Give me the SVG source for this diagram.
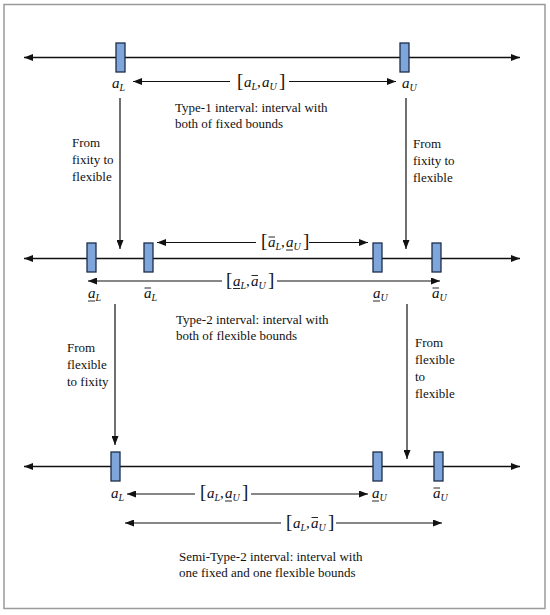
<svg xmlns="http://www.w3.org/2000/svg" width="550" height="615" viewBox="0 0 550 615">
<style>
  .t { font-size: 13px; fill: #111; }
  .m { font-size: 15px; font-style: italic; fill: #111; }
  .s { font-size: 10px; }
  .br { font-size: 19px; font-style: normal; }
  .cm { font-style: normal; }
  .ar { stroke: #111; stroke-width: 1.2; fill: none; marker-end: url(#ah); }
  .axis { stroke: #111; stroke-width: 1.4; fill: none; marker-end: url(#ah); marker-start: url(#ah); }
  .tick { fill: #7FA6DA; stroke: #1E2D4A; stroke-width: 1.3; }
  .bar { stroke: #111; stroke-width: 0.9; }
</style>
<defs>
  <marker id="ah" markerUnits="userSpaceOnUse" markerWidth="9" markerHeight="7" viewBox="0 0 9 7" refX="9" refY="3.5" orient="auto-start-reverse">
    <path d="M0,0 L9,3.5 L0,7 z" fill="#111"/>
  </marker>
</defs>
<rect x="4" y="4.5" width="541" height="604" fill="#fff" stroke="#9a9a9a" stroke-width="1.5"/>

<g id="connectors">
  <line class="axis" x1="24" y1="57.5" x2="520" y2="57.5"/>
  <line class="axis" x1="24" y1="258.5" x2="520" y2="258.5"/>
  <line class="axis" x1="24" y1="466.5" x2="520" y2="466.5"/>
  <line class="ar" x1="120" y1="98" x2="120" y2="249"/>
  <line class="ar" x1="406" y1="98" x2="406" y2="249"/>
  <line class="ar" x1="115" y1="304" x2="115" y2="445"/>
  <line class="ar" x1="407" y1="304" x2="407" y2="459"/>
  <line class="ar" x1="230" y1="81.5" x2="133" y2="81.5"/>
  <line class="ar" x1="289" y1="81.5" x2="396" y2="81.5"/>
  <line class="ar" x1="256" y1="242.5" x2="157" y2="242.5"/>
  <line class="ar" x1="309" y1="242.5" x2="368" y2="242.5"/>
  <line class="ar" x1="222" y1="281" x2="88" y2="281"/>
  <line class="ar" x1="277" y1="281" x2="440" y2="281"/>
  <line class="ar" x1="195" y1="494" x2="127" y2="494"/>
  <line class="ar" x1="251" y1="494" x2="368" y2="494"/>
  <line class="ar" x1="281" y1="523" x2="125" y2="523"/>
  <line class="ar" x1="336" y1="523" x2="442" y2="523"/>
</g>

<g font-family="Liberation Serif, Times New Roman, serif">
<g id="type1">
  <rect class="tick" x="116" y="43" width="9" height="29"/>
  <rect class="tick" x="400" y="43" width="9" height="29"/>
  <text class="m" y="88"><tspan x="112">a</tspan><tspan class="s" x="119.5" dy="3">L</tspan></text>
  <text class="m" y="88"><tspan x="402">a</tspan><tspan class="s" x="409.5" dy="3">U</tspan></text>
  <text class="m" y="87"><tspan class="br" x="237">[</tspan><tspan x="244">a</tspan><tspan class="s" x="251.5" dy="3">L</tspan><tspan class="cm" x="257" dy="-3">,</tspan><tspan x="262">a</tspan><tspan class="s" x="269.5" dy="3">U</tspan><tspan class="br" x="279" dy="-3">]</tspan></text>
  <text class="t" x="175" y="112">Type-1 interval: interval with</text>
  <text class="t" x="175" y="128">both of fixed bounds</text>
</g>

<g id="label-fixity-flexible-left">
  <text class="t" x="72" y="147">From</text>
  <text class="t" x="72" y="164">fixity to</text>
  <text class="t" x="72" y="181">flexible</text>
</g>
<g id="label-fixity-flexible-right">
  <text class="t" x="413" y="148">From</text>
  <text class="t" x="413" y="165">fixity to</text>
  <text class="t" x="413" y="182">flexible</text>
</g>

<g id="type2">
  <rect class="tick" x="87" y="243" width="9" height="29"/>
  <rect class="tick" x="144" y="243" width="9" height="29"/>
  <rect class="tick" x="373" y="243" width="9" height="29"/>
  <rect class="tick" x="432" y="243" width="9" height="29"/>
  <text class="m" y="247"><tspan class="br" x="261">[</tspan><tspan x="268">a</tspan><tspan class="s" x="275.5" dy="3">L</tspan><tspan class="cm" x="281" dy="-3">,</tspan><tspan x="286">a</tspan><tspan class="s" x="293.5" dy="3">U</tspan><tspan class="br" x="303" dy="-3">]</tspan></text>
  <line class="bar" x1="268.5" y1="237" x2="275" y2="237"/>
  <line class="bar" x1="286" y1="250" x2="293" y2="250"/>
  <text class="m" y="285.5"><tspan class="br" x="226">[</tspan><tspan x="233">a</tspan><tspan class="s" x="240.5" dy="3">L</tspan><tspan class="cm" x="246" dy="-3">,</tspan><tspan x="251">a</tspan><tspan class="s" x="258.5" dy="3">U</tspan><tspan class="br" x="268" dy="-3">]</tspan></text>
  <line class="bar" x1="233" y1="288.5" x2="240" y2="288.5"/>
  <line class="bar" x1="251.5" y1="275.5" x2="258" y2="275.5"/>
  <text class="m" y="298"><tspan x="88">a</tspan><tspan class="s" x="95.5" dy="3">L</tspan></text>
  <line class="bar" x1="88" y1="301" x2="95" y2="301"/>
  <text class="m" y="298"><tspan x="144">a</tspan><tspan class="s" x="151.5" dy="3">L</tspan></text>
  <line class="bar" x1="144.5" y1="288" x2="151" y2="288"/>
  <text class="m" y="298"><tspan x="373">a</tspan><tspan class="s" x="380.5" dy="3">U</tspan></text>
  <line class="bar" x1="373" y1="301" x2="380" y2="301"/>
  <text class="m" y="298"><tspan x="432">a</tspan><tspan class="s" x="439.5" dy="3">U</tspan></text>
  <line class="bar" x1="432.5" y1="288" x2="439" y2="288"/>
  <text class="t" x="176" y="324">Type-2 interval: interval with</text>
  <text class="t" x="176" y="340">both of flexible bounds</text>
</g>

<g id="label-flexible-fixity">
  <text class="t" x="67" y="352">From</text>
  <text class="t" x="67" y="369">flexible</text>
  <text class="t" x="67" y="386">to fixity</text>
</g>
<g id="label-flexible-flexible">
  <text class="t" x="415" y="347">From</text>
  <text class="t" x="415" y="364">flexible</text>
  <text class="t" x="415" y="381">to</text>
  <text class="t" x="415" y="398">flexible</text>
</g>

<g id="semitype2">
  <rect class="tick" x="111" y="452" width="9" height="29"/>
  <rect class="tick" x="373" y="452" width="9" height="29"/>
  <rect class="tick" x="434" y="452" width="9" height="29"/>
  <text class="m" y="498"><tspan x="111">a</tspan><tspan class="s" x="118.5" dy="3">L</tspan></text>
  <text class="m" y="498"><tspan x="372">a</tspan><tspan class="s" x="379.5" dy="3">U</tspan></text>
  <line class="bar" x1="372" y1="501" x2="379" y2="501"/>
  <text class="m" y="498"><tspan x="433">a</tspan><tspan class="s" x="440.5" dy="3">U</tspan></text>
  <line class="bar" x1="433.5" y1="488" x2="440" y2="488"/>
  <text class="m" y="498"><tspan class="br" x="200">[</tspan><tspan x="207">a</tspan><tspan class="s" x="214.5" dy="3">L</tspan><tspan class="cm" x="220" dy="-3">,</tspan><tspan x="225">a</tspan><tspan class="s" x="232.5" dy="3">U</tspan><tspan class="br" x="242" dy="-3">]</tspan></text>
  <line class="bar" x1="225" y1="501" x2="232" y2="501"/>
  <text class="m" y="527.5"><tspan class="br" x="286">[</tspan><tspan x="293">a</tspan><tspan class="s" x="300.5" dy="3">L</tspan><tspan class="cm" x="306" dy="-3">,</tspan><tspan x="311">a</tspan><tspan class="s" x="318.5" dy="3">U</tspan><tspan class="br" x="328" dy="-3">]</tspan></text>
  <line class="bar" x1="311.5" y1="517.5" x2="318" y2="517.5"/>
  <text class="t" x="179" y="561">Semi-Type-2 interval: interval with</text>
  <text class="t" x="179" y="577">one fixed and one flexible bounds</text>
</g>
</g>
</svg>
